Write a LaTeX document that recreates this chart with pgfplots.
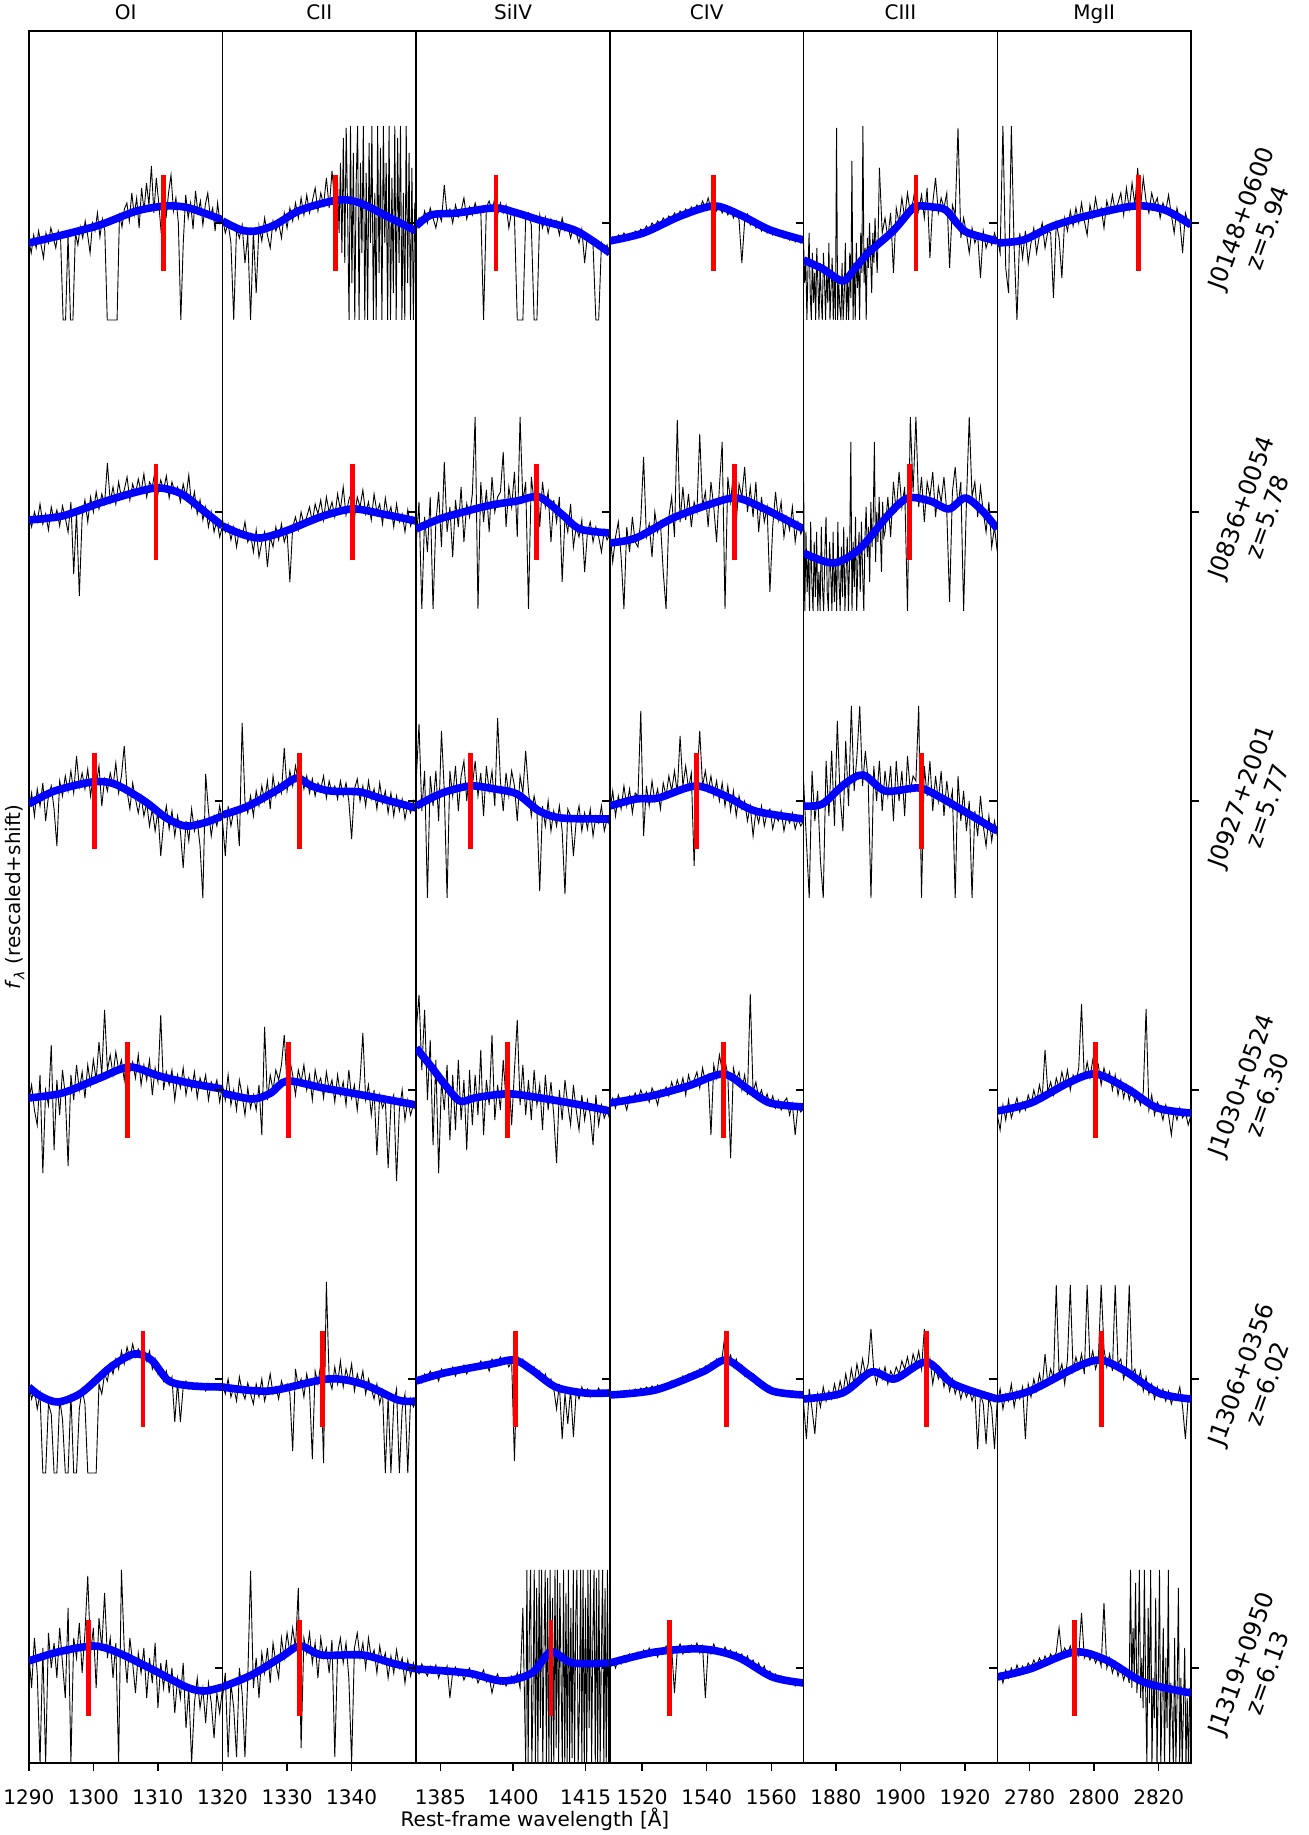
\documentclass[border=0pt]{standalone}
\usepackage{fontspec}
\setmainfont{DejaVu Sans}
\usepackage{pgfplots}
\usepackage{pgfplotstable}
\pgfplotsset{compat=1.18}

\newcommand\spec[4]{%
  \pgfplotstableread[row sep=\\,header=false]{#4\\}\specT
  \pgfplotstablegetrowsof{\specT}%
  \pgfmathsetmacro\specN{\pgfplotsretval-1}%
  \addplot[black, line width=0.45pt] table[x index=0, y index=0, x expr={#1+\coordindex*(#2-#1)/\specN}, y expr={\thisrowno{0}+#3}]{\specT};%
}
\newcommand\bl[2]{%
  \pgfplotstableread[row sep=\\,header=false]{#2\\}\blT
  \addplot[blue, line width=3.8pt, smooth, line join=round] table[x index=0, y index=1, y expr={\thisrowno{1}+#1}]{\blT};}
\newcommand\rl[3]{\addplot[red, line width=2.3pt] coordinates {(#1,#2) (#1,#3)};}

\pgfplotsset{
  panel/.style={
    scale only axis, width=96.85pt, height=866pt,
    anchor=south west,
    ymin=72, ymax=1804,
    ytick={167,456,745,1034,1323,1612},
    yticklabels={},
    xtick pos=left, ytick pos=left,
    tick align=outside,
    major tick length=4pt,
    every tick/.style={black, line width=0.7pt},
    axis line style={line width=0.8pt},
    scaled x ticks=false,
    /pgf/number format/assume math mode=true,
    xticklabel style={font=\fontsize{10}{12}\selectfont, anchor=base, yshift=-16.5pt},
    every axis title/.style={at={(0.5,1)}, anchor=base, yshift=5.5pt, font=\fontsize{10}{12}\selectfont},
  }
}

\begin{document}
\begin{tikzpicture}
\path[use as bounding box] (0,0) rectangle (654.5pt,917.5pt);

% ---------------- OI
\begin{axis}[panel, at={(14.4pt,36pt)}, xmin=1290, xmax=1320, xtick={1290,1300,1310}, xticklabels={1290,1300,1310}, title={OI}, ytick=\empty]
\spec{1290}{1320}{1612}{-18\\-30\\-12\\-25\\-8\\-22\\-35\\-10\\-20\\-5\\-15\\-25\\-8\\-18\\-97\\-97\\-12\\-97\\-97\\-10\\-22\\-4\\-15\\2\\-12\\-30\\0\\-8\\10\\-14\\4\\-8\\-97\\-97\\-97\\-97\\-97\\10\\-4\\14\\20\\2\\30\\8\\25\\-5\\35\\12\\40\\18\\57\\10\\45\\20\\-10\\38\\5\\30\\48\\12\\25\\0\\-97\\-20\\28\\5\\20\\-6\\32\\10\\22\\-2\\18\\30\\6\\15\\-8\\20\\0\\8}
\bl{1612}{1290 -20\\1295.2 -12\\1301 -2\\1306.7 12\\1311.3 17\\1314.8 15\\1320 3}
\rl{1310.9}{1564}{1660}
\spec{1290}{1320}{1323}{-5\\-15\\0\\-10\\8\\-12\\-2\\-18\\5\\-8\\2\\-14\\6\\-6\\-20\\10\\-62\\0\\-84\\-5\\12\\-10\\15\\0\\20\\3\\18\\8\\49\\10\\25\\8\\30\\14\\22\\35\\12\\28\\18\\33\\20\\38\\15\\30\\25\\42\\18\\32\\22\\36\\14\\30\\20\\25\\10\\28\\15\\37\\5\\20\\-2\\12\\-8\\5\\-15\\0\\-20\\-8\\-25\\-14}
\bl{1323}{1290 -8\\1295.2 -4\\1301 9\\1306.7 20\\1310.2 24\\1313.7 18\\1317.1 1\\1320 -14}
\rl{1309.7}{1275}{1371}
\spec{1290}{1320}{1034}{-10\\8\\-15\\12\\-5\\18\\-20\\5\\15\\-8\\-45\\20\\5\\25\\10\\30\\8\\45\\14\\28\\12\\32\\5\\25\\15\\35\\-5\\22\\10\\28\\15\\38\\8\\25\\55\\10\\-8\\18\\2\\-12\\5\\-15\\-2\\-25\\-8\\-30\\-10\\-55\\-22\\-5\\-28\\-10\\-35\\-15\\-30\\-67\\-20\\-40\\-8\\-30\\-20\\-45\\-97\\27\\-10\\-35\\-15\\-25\\-5\\-20}
\bl{1034}{1290 -3\\1294 10\\1299.8 19\\1303.3 17\\1307.9 0\\1311.3 -17\\1314.2 -25\\1317.1 -22\\1320 -15}
\rl{1300.2}{986}{1082}
\spec{1290}{1320}{745}{-10\\5\\-20\\-35\\15\\-83\\0\\-15\\45\\-60\\10\\-25\\20\\-5\\-76\\15\\-10\\25\\0\\18\\-8\\25\\5\\30\\10\\48\\15\\80\\20\\35\\15\\38\\20\\30\\10\\40\\18\\28\\12\\35\\5\\25\\10\\30\\-5\\22\\8\\75\\0\\18\\5\\20\\-10\\15\\2\\22\\-5\\12\\0\\18\\-8\\12\\2\\15\\-10\\8\\0\\10\\-12\\5}
\bl{745}{1290 -8\\1295.2 -3\\1301 12\\1305.6 23\\1310.2 14\\1314.8 7\\1320 1}
\rl{1305.3}{697}{793}
\spec{1290}{1320}{456}{-5\\-20\\-10\\-30\\-15\\-94\\-94\\-25\\-35\\-94\\-94\\-20\\-40\\-94\\-94\\-15\\-94\\-94\\-30\\-10\\-25\\-94\\-94\\-94\\-94\\-5\\-15\\5\\-2\\15\\5\\20\\10\\28\\15\\32\\20\\35\\22\\30\\25\\32\\18\\28\\10\\20\\5\\12\\-2\\8\\-5\\2\\-43\\-3\\-43\\-8\\-2\\-10\\-5\\-9\\-4\\-10\\-6\\-12\\-5\\-9\\-7\\-11\\-6\\-8}
\bl{456}{1290 -8\\1291.8 -17\\1294.5 -23\\1298.1 -14\\1302.7 12\\1306.3 25\\1309 19\\1311.7 -2\\1315.4 -7\\1320 -8}
\rl{1307.7}{408}{504}
\spec{1290}{1320}{167}{15\\-20\\30\\-5\\-95\\20\\-95\\35\\0\\25\\-10\\40\\5\\-30\\60\\-95\\30\\10\\45\\-5\\35\\92\\15\\40\\-20\\50\\20\\75\\10\\30\\-10\\25\\-95\\98\\20\\-15\\30\\5\\-25\\15\\-5\\20\\-30\\10\\-15\\25\\-40\\5\\-20\\8\\-25\\0\\-45\\-10\\-30\\5\\-60\\-20\\-95\\-35\\-10\\-40\\-20\\-55\\-15\\-35\\-70\\-25\\-45\\-20}
\bl{167}{1290 7\\1294.5 16\\1300 22\\1303.6 16\\1309 -1\\1314.4 -19\\1317.2 -23\\1320 -19}
\rl{1299.2}{119}{215}
\end{axis}

% ---------------- CII
\begin{axis}[panel, at={(111.25pt,36pt)}, xmin=1320, xmax=1350, xtick={1320,1330,1340}, xticklabels={1320,1330,1340}, title={CII}]
\spec{1320}{1337.83}{1612}{5\\-10\\0\\-20\\-97\\-5\\-15\\-2\\-40\\-12\\-97\\-8\\-70\\-3\\-18\\5\\-12\\-25\\2\\-8\\0\\-15\\10\\-5\\15\\2\\20\\5\\25\\8\\28\\10\\22\\35\\12\\30\\18\\45\\15\\52\\20\\40}
\spec{1337.83}{1350}{1612}{40\\-10\\60\\-30\\85\\-40\\95\\10\\-97\\97\\-60\\70\\-97\\40\\97\\-97\\60\\-30\\97\\-97\\50\\-97\\80\\-20\\97\\-97\\30\\-97\\97\\-50\\75\\-97\\97\\-20\\60\\-97\\97\\-97\\45\\-70\\97\\-97\\85\\-40\\97\\-97\\30\\-97\\97\\-60\\70\\-97\\55\\-97\\20\\-40}
\bl{1612}{1320 2\\1322.9 -7\\1325.2 -8\\1328.1 -2\\1332.1 13\\1337.9 23\\1341.3 20\\1346 5\\1350 -8}
\rl{1337.5}{1564}{1660}
\spec{1320}{1350}{1323}{-8\\-20\\-12\\-28\\-15\\-35\\-18\\-25\\-10\\-30\\-22\\-40\\-18\\-45\\-30\\-20\\-55\\-25\\-35\\-15\\-28\\-12\\-30\\-20\\-70\\-15\\-5\\-18\\0\\-12\\-5\\5\\-10\\8\\-2\\12\\-8\\15\\0\\10\\-5\\18\\2\\25\\-3\\12\\20\\-6\\15\\5\\22\\-2\\10\\-8\\18\\0\\8\\-12\\14\\-4\\5\\-15\\8\\-10\\-2\\-20\\2\\-14\\-6\\-10}
\bl{1323}{1320 -14\\1322.9 -22\\1325.8 -26\\1329.8 -19\\1335.6 -4\\1340.2 3\\1344.8 -2\\1350 -9}
\rl{1340.1}{1275}{1371}
\spec{1320}{1350}{1034}{-20\\-55\\-5\\-25\\-10\\-8\\-45\\78\\0\\-12\\5\\-15\\10\\-5\\15\\0\\20\\-8\\25\\5\\18\\8\\53\\10\\30\\15\\35\\20\\28\\12\\25\\8\\22\\5\\18\\12\\25\\3\\20\\8\\15\\2\\20\\5\\18\\0\\-38\\12\\22\\0\\15\\-5\\20\\2\\12\\-8\\18\\-2\\10\\-12\\8\\-15\\5\\-10\\2\\-18\\-3\\-12\\0\\-10}
\bl{1034}{1320 -14\\1324 -5\\1328.7 12\\1331.5 23\\1333.8 15\\1336.7 10\\1341.3 9\\1344.8 2\\1350 -7}
\rl{1331.9}{986}{1082}
\spec{1320}{1350}{745}{5\\-10\\15\\-15\\0\\-20\\10\\-5\\-25\\2\\-18\\-5\\-20\\5\\-45\\63\\-10\\15\\0\\20\\10\\25\\55\\5\\30\\15\\-5\\20\\8\\25\\0\\15\\-10\\20\\5\\12\\-8\\18\\0\\10\\-12\\15\\-5\\8\\-15\\20\\-8\\5\\-20\\10\\57\\-10\\5\\-25\\0\\-65\\-5\\-18\\-10\\-78\\-15\\-5\\-91\\-20\\0\\-30\\-10\\-25\\-15\\-20}
\bl{745}{1320 -3\\1324.6 -9\\1327.5 -3\\1330 9\\1335.6 2\\1342.5 -6\\1350 -15}
\rl{1330.2}{697}{793}
\spec{1320}{1350}{456}{-5\\-15\\0\\-18\\-8\\-22\\2\\-12\\-20\\-4\\-15\\-25\\-5\\-18\\0\\-22\\-10\\5\\-15\\-8\\-20\\-2\\-12\\-5\\-15\\-72\\10\\-8\\0\\-18\\5\\-10\\-80\\8\\-5\\15\\-84\\97\\0\\-10\\12\\-5\\18\\-8\\10\\-2\\15\\-12\\5\\-6\\8\\-15\\0\\-10\\-20\\-5\\-25\\-12\\-94\\-18\\-94\\-25\\-10\\-94\\-30\\-15\\-94\\-20\\-28\\-22}
\bl{456}{1320 -8\\1327.2 -12\\1336.3 0\\1341.7 -5\\1347.2 -21\\1350 -22}
\rl{1335.5}{408}{504}
\spec{1320}{1350}{167}{-30\\-5\\-89\\-15\\-40\\-89\\0\\-25\\-89\\-10\\97\\-20\\10\\-30\\15\\-5\\20\\-15\\25\\5\\-10\\30\\10\\35\\15\\40\\20\\80\\-80\\30\\15\\35\\5\\25\\-10\\30\\10\\20\\-5\\28\\-89\\15\\30\\5\\25\\-10\\-95\\20\\35\\10\\25\\0\\30\\10\\18\\-5\\22\\5\\15\\-10\\12\\-5\\18\\0\\10\\-15\\8\\-8\\5\\-5}
\bl{167}{1320 -19\\1324.5 -7\\1329.1 11\\1332 22\\1335.4 13\\1341.7 13\\1346.2 5\\1350 -1}
\rl{1331.9}{119}{215}
\end{axis}

% ---------------- SiIV
\begin{axis}[panel, at={(208.1pt,36pt)}, xmin=1380, xmax=1420, xtick={1385,1400,1415}, xticklabels={1385,1400,1415}, title={SiIV}]
\spec{1380}{1420}{1612}{-8\\5\\-2\\12\\0\\15\\5\\-5\\10\\2\\38\\8\\14\\0\\18\\6\\12\\25\\4\\16\\8\\20\\10\\14\\-97\\16\\22\\12\\25\\8\\20\\10\\18\\-5\\12\\6\\-97\\-97\\-97\\5\\10\\-2\\-97\\-97\\8\\-5\\6\\-10\\4\\-3\\2\\-12\\5\\-8\\-2\\-15\\-4\\-10\\-20\\-6\\-40\\-12\\-18\\-22\\-97\\-97\\-20\\-28\\-22\\-35}
\bl{1612}{1380 -3\\1383.1 8\\1388.5 10\\1396.2 15\\1400.8 10\\1405.4 3\\1413.1 -8\\1420 -30}
\rl{1396.5}{1564}{1660}
\spec{1380}{1420}{1323}{-30\\10\\-97\\-5\\-40\\15\\-97\\-10\\20\\-35\\50\\-20\\5\\-45\\12\\-15\\25\\-30\\8\\-5\\18\\95\\-97\\30\\-10\\22\\-20\\35\\0\\15\\20\\60\\-15\\25\\5\\40\\-25\\95\\10\\30\\-97\\35\\10\\45\\-15\\30\\5\\20\\-30\\12\\-10\\15\\-70\\-5\\-20\\8\\-35\\-15\\-25\\-8\\-60\\-20\\-10\\-30\\-15\\-25\\-40\\-18\\-28\\-22}
\bl{1323}{1380 -17\\1385.4 -6\\1394.6 6\\1400.8 11\\1405.4 15\\1410 -2\\1413.8 -17\\1420 -21}
\rl{1404.9}{1275}{1371}
\spec{1380}{1420}{1034}{20\\77\\-10\\30\\-97\\25\\-5\\30\\-20\\70\\10\\-97\\30\\5\\35\\-10\\25\\40\\0\\30\\15\\40\\5\\28\\-15\\35\\10\\30\\-5\\83\\20\\-10\\28\\5\\30\\15\\-20\\25\\8\\50\\10\\-15\\5\\-10\\-90\\-5\\-25\\0\\-30\\-10\\-25\\-5\\-30\\-93\\-8\\-15\\-55\\-20\\-5\\-30\\-12\\-28\\-8\\-35\\-15\\-22\\-5\\-30\\-18\\-25}
\bl{1034}{1380 -5\\1385.4 8\\1391.2 15\\1396.2 12\\1400.8 7\\1405.4 -10\\1410 -17\\1420 -18}
\rl{1391.2}{986}{1082}
\spec{1380}{1420}{745}{60\\95\\20\\80\\-10\\50\\-55\\30\\-83\\10\\-20\\25\\-50\\15\\-40\\30\\-30\\10\\-60\\20\\-35\\15\\-25\\40\\-45\\10\\-15\\55\\-30\\5\\-20\\30\\-10\\15\\-35\\20\\70\\-15\\25\\-25\\10\\-30\\20\\-15\\5\\-40\\15\\-20\\8\\-25\\-73\\0\\-30\\10\\-15\\-35\\5\\-20\\-40\\-5\\-30\\-10\\-25\\-55\\-5\\-35\\-15\\-28\\-20\\-30}
\bl{745}{1380 42\\1383 24\\1386 5\\1389 -11\\1392 -8\\1396 -5\\1400 -4\\1407 -9\\1414 -15\\1420 -21}
\rl{1398.8}{697}{793}
\spec{1380}{1420}{456}{-5\\2\\-4\\5\\0\\8\\2\\6\\-2\\10\\4\\9\\6\\12\\3\\10\\8\\14\\5\\12\\9\\15\\10\\18\\12\\16\\8\\20\\14\\17\\22\\15\\20\\12\\18\\-82\\24\\16\\20\\10\\14\\6\\12\\2\\8\\-2\\5\\-6\\0\\-10\\-30\\-5\\-60\\-15\\-45\\-10\\-58\\-12\\-20\\-8\\-16\\-10\\-18\\-12\\-15\\-9\\-17\\-13\\-11\\-15}
\bl{456}{1380 -2\\1385.8 6\\1395.5 15\\1400.3 19\\1403.9 9\\1408.8 -8\\1414.8 -14\\1420 -14}
\rl{1400.5}{408}{504}
\spec{1380}{1402.61}{167}{0\\-6\\4\\-3\\-8\\2\\-5\\3\\-10\\0\\-6\\2\\-30\\-4\\1\\-8\\-2\\-12\\-5\\0\\-10\\-4\\-15\\-8\\-2\\-14\\-9\\-25\\-12\\-6\\-16\\-10\\-18\\-12\\-8\\-15\\-5\\-20\\60\\-97}
\spec{1402.61}{1420}{167}{-97\\98\\-97\\40\\98\\-97\\-30\\98\\-97\\80\\-97\\98\\-60\\98\\-97\\20\\98\\-97\\90\\-97\\98\\-97\\70\\-97\\98\\-80\\98\\-97\\85\\-10\\-97\\98\\-97\\75\\-97\\98\\-97\\60\\-90\\98\\-97\\50\\98\\-97\\-40\\98\\-97\\98\\-97\\70\\-97\\98\\-60\\98\\-97\\30\\98\\-97\\90\\-97\\98\\-97\\10\\98\\-97\\80\\-97\\98\\-97\\60}
\bl{167}{1380 -1\\1390.6 -5\\1397.9 -13\\1403.9 -5\\1407.8 16\\1412.3 5\\1420 5}
\rl{1407.8}{119}{215}
\end{axis}

% ---------------- CIV
\begin{axis}[panel, at={(304.95pt,36pt)}, xmin=1510, xmax=1570, xtick={1520,1540,1560}, xticklabels={1520,1540,1560}, title={CIV}]
\spec{1510}{1570}{1612}{-20\\-14\\-19\\-12\\-17\\-10\\-15\\-11\\-14\\-8\\-12\\-6\\-9\\-3\\-7\\0\\-4\\2\\-2\\5\\1\\7\\3\\10\\5\\12\\8\\14\\9\\16\\11\\18\\13\\22\\15\\25\\14\\20\\12\\18\\10\\16\\8\\14\\5\\12\\3\\-40\\2\\9\\-2\\4\\-5\\1\\-8\\-2\\-10\\-4\\-12\\-6\\-13\\-8\\-15\\-10\\-17\\-12\\-19\\-14\\-20\\-16}
\bl{1612}{1510 -18\\1520.4 -10\\1531.9 7\\1542.3 17\\1550.4 8\\1559.6 -7\\1570 -17}
\rl{1542.1}{1564}{1660}
\spec{1510}{1570}{1323}{-20\\-50\\-25\\-10\\-45\\-97\\-15\\-40\\-5\\-30\\-35\\-8\\55\\-25\\-12\\-45\\0\\-20\\-10\\-60\\-97\\-5\\15\\-25\\92\\-10\\25\\-8\\18\\-15\\10\\0\\78\\5\\20\\-15\\30\\5\\-30\\25\\70\\-97\\35\\10\\40\\-10\\28\\15\\45\\0\\25\\-5\\30\\-20\\15\\-10\\5\\-80\\-15\\20\\-8\\10\\-25\\-5\\-18\\5\\-30\\-10\\-22\\-15}
\bl{1323}{1510 -31\\1518.1 -26\\1529.6 -6\\1541.2 8\\1549.2 14\\1557.3 4\\1570 -17}
\rl{1548.5}{1275}{1371}
\spec{1510}{1570}{1034}{-10\\10\\-15\\5\\-8\\15\\-5\\12\\-12\\8\\5\\90\\-35\\15\\-5\\20\\0\\12\\-8\\18\\5\\25\\10\\30\\8\\65\\15\\35\\12\\28\\-65\\20\\70\\15\\30\\10\\25\\5\\20\\0\\18\\-5\\15\\-10\\10\\-15\\5\\-8\\0\\-20\\-5\\-35\\-10\\-22\\-5\\-25\\-12\\-8\\-28\\-15\\-20\\-10\\-30\\-15\\-22\\-12\\-28\\-18\\-25\\-20}
\bl{1034}{1510 -5\\1518.1 2\\1525 3\\1536.5 15\\1545.8 5\\1555 -10\\1570 -18}
\rl{1536.8}{986}{1082}
\spec{1510}{1570}{745}{-15\\-8\\-18\\-5\\-14\\-10\\-20\\-6\\-12\\-3\\-10\\0\\-8\\-2\\-12\\2\\-5\\-15\\0\\-4\\3\\-6\\8\\-2\\10\\0\\12\\-5\\15\\4\\10\\18\\2\\22\\8\\15\\-45\\25\\12\\35\\20\\30\\15\\-68\\22\\10\\18\\0\\15\\-5\\96\\-2\\8\\-8\\0\\-12\\-4\\-15\\-6\\-18\\-10\\-20\\-12\\-8\\-25\\-14\\-45\\-16\\-22\\-18}
\bl{745}{1510 -13\\1522.7 -6\\1534.2 4\\1545.1 16\\1552.7 1\\1559.6 -13\\1570 -17}
\rl{1545.1}{697}{793}
\spec{1510}{1570}{456}{-18\\-14\\-17\\-13\\-16\\-12\\-15\\-11\\-14\\-10\\-13\\-9\\-12\\-8\\-11\\-7\\-12\\-6\\-10\\-8\\-5\\-8\\-2\\-5\\0\\-3\\3\\0\\5\\2\\7\\4\\10\\6\\13\\8\\16\\11\\20\\14\\22\\45\\18\\24\\12\\20\\8\\14\\3\\8\\0\\5\\-5\\-2\\-8\\-5\\-10\\-7\\-13\\-10\\-14\\-11\\-16\\-13\\-15\\-12\\-17\\-14\\-18\\-15}
\bl{456}{1510 -16\\1524.1 -11\\1538.6 7\\1545.9 19\\1553.1 4\\1560.3 -12\\1570 -16}
\rl{1546.2}{408}{504}
\spec{1510}{1570}{167}{2\\8\\0\\10\\4\\12\\6\\14\\8\\12\\16\\10\\18\\12\\20\\14\\17\\11\\19\\15\\22\\13\\20\\-25\\18\\24\\14\\21\\16\\23\\17\\25\\15\\22\\-30\\20\\14\\24\\16\\19\\13\\21\\15\\18\\10\\16\\8\\14\\6\\12\\3\\8\\0\\5\\-4\\2\\-8\\-3\\-10\\-6\\-12\\-8\\-14\\-10\\-16\\-12\\-18\\-13\\-17\\-15}
\bl{167}{1510 5\\1524.1 16\\1538.6 19\\1549.5 11\\1560.3 -9\\1570 -15}
\rl{1528.5}{119}{215}
\end{axis}

% ---------------- CIII
\begin{axis}[panel, at={(401.8pt,36pt)}, xmin=1870, xmax=1930, xtick={1880,1900,1920}, xticklabels={1880,1900,1920}, title={CIII}]
\spec{1870}{1893.48}{1612}{-20\\-60\\-35\\-97\\-45\\-10\\-70\\-97\\-30\\-80\\-50\\-97\\-25\\-60\\-97\\-40\\-75\\-97\\-30\\-55\\-97\\-45\\-80\\-20\\-97\\-65\\-35\\-97\\-50\\-97\\95\\-97\\-60\\-85\\-97\\-40\\-97\\-70\\-20\\-97\\-55\\-97\\-30\\-75\\62\\-97\\-40\\-97\\-20\\-65\\-35\\-97\\-10\\-50\\97\\-60\\-25\\-97\\-15\\-45\\0\\-35\\-70\\-10\\-40\\5\\-25\\-50\\-5\\55}
\spec{1893.48}{1930}{1612}{55\\-10\\5\\-15\\10\\-50\\15\\0\\25\\5\\30\\10\\22\\40\\12\\28\\5\\35\\-35\\20\\45\\10\\25\\15\\30\\-45\\18\\8\\95\\-15\\5\\-10\\-30\\-5\\-20\\-12\\-55\\-8\\-25\\-15\\-22\\-10\\-20}
\bl{1612}{1870 -37\\1876 -46\\1882.2 -58\\1886 -45\\1890 -30\\1897.7 -8\\1903 12\\1905 17\\1910 16\\1914 13\\1918 -2\\1921 -10\\1930 -18}
\rl{1904.8}{1564}{1660}
\spec{1870}{1895.22}{1323}{30\\-99\\-20\\-80\\-40\\-99\\-10\\-70\\-99\\-30\\-85\\-20\\-99\\-60\\-99\\-15\\-75\\-99\\-40\\-5\\-80\\-99\\-30\\-60\\-99\\-20\\-90\\-50\\-99\\-10\\-70\\-99\\-35\\-85\\-15\\-99\\-60\\-25\\-99\\-45\\70\\-99\\-30\\-75\\-5\\-99\\-50\\-20\\-80\\-10\\-60\\-99\\-25\\5\\-45\\-15\\-70\\10\\-35\\-5\\70\\-50\\0\\-30\\15\\-20\\-60\\10\\-25\\-20}
\spec{1895.22}{1930}{1323}{-20\\15\\-25\\30\\0\\40\\5\\25\\-99\\95\\20\\95\\5\\35\\-10\\30\\15\\40\\-5\\25\\10\\35\\0\\-90\\20\\45\\5\\30\\-99\\10\\95\\15\\30\\-5\\25\\0\\-20\\10\\-35\\-15\\-40}
\bl{1323}{1870 -41\\1879.2 -51\\1887.3 -37\\1896.5 -2\\1902.3 14\\1909.2 11\\1915 3\\1920.1 14\\1925.4 1\\1930 -17}
\rl{1902.8}{1275}{1371}
\spec{1870}{1930}{1034}{20\\-40\\-97\\30\\-20\\10\\-60\\-97\\40\\-15\\50\\-25\\80\\5\\-30\\60\\-5\\95\\10\\45\\95\\15\\50\\20\\-97\\35\\0\\40\\-10\\30\\5\\35\\-20\\40\\0\\30\\-15\\45\\10\\25\\20\\95\\-97\\35\\5\\40\\-10\\25\\0\\30\\-15\\20\\-5\\10\\-97\\25\\-20\\10\\-30\\0\\-97\\-10\\-35\\5\\-25\\-45\\-15\\-40\\-20\\-35}
\bl{1034}{1870 -5\\1875.8 -3\\1882.7 17\\1888.5 26\\1895.4 10\\1905.8 13\\1912.7 3\\1919.6 -10\\1930 -30}
\rl{1906.5}{986}{1082}
\spec{1870}{1930}{456}{-25\\-60\\-10\\-30\\-55\\-15\\-28\\-8\\-22\\-12\\-20\\-5\\-18\\-2\\-15\\5\\-10\\10\\-5\\15\\0\\20\\5\\15\\50\\8\\-5\\10\\0\\12\\-5\\8\\2\\12\\5\\18\\10\\22\\8\\25\\15\\28\\10\\50\\5\\20\\-5\\12\\0\\8\\-8\\5\\-12\\0\\-15\\-5\\-20\\-8\\-18\\-10\\-22\\-12\\-70\\-15\\-25\\-65\\-18\\-30\\-70\\-20}
\bl{456}{1870 -20\\1882 -14\\1891 7\\1898.2 0\\1908 17\\1916.4 -5\\1930 -20}
\rl{1908}{408}{504}
\end{axis}

% ---------------- MgII
\begin{axis}[panel, at={(498.65pt,36pt)}, xmin=2770, xmax=2830, xtick={2780,2800,2820}, xticklabels={2780,2800,2820}, title={MgII}, ytick pos=both]
\spec{2770}{2830}{1612}{-15\\-30\\97\\-45\\-70\\97\\-25\\-97\\-10\\-35\\-8\\-40\\-20\\-5\\-30\\-12\\0\\-25\\-8\\-10\\-75\\0\\-15\\-55\\5\\-8\\12\\-3\\15\\0\\20\\2\\-12\\18\\5\\25\\8\\15\\-5\\22\\10\\28\\12\\20\\30\\8\\35\\14\\40\\18\\55\\15\\45\\22\\10\\30\\18\\25\\5\\20\\12\\28\\8\\-10\\15\\2\\-30\\10\\0\\-5}
\bl{1612}{2770 -20\\2778.1 -17\\2787.3 -3\\2798.8 8\\2812.7 17\\2821.9 13\\2830 -2}
\rl{2813.8}{1564}{1660}
\spec{2770}{2830}{745}{-25\\-40\\-15\\-30\\-10\\-28\\-18\\-8\\-22\\-12\\-20\\-5\\-15\\0\\-12\\5\\-8\\40\\-2\\8\\-5\\12\\2\\18\\5\\20\\0\\15\\8\\22\\86\\10\\28\\12\\30\\15\\25\\5\\22\\10\\18\\0\\15\\-5\\10\\-8\\5\\-10\\2\\-12\\-5\\-15\\-2\\81\\-20\\-5\\-25\\-12\\-18\\-30\\-15\\-25\\-45\\-20\\-30\\-18\\-28\\-22\\-35\\-25}
\bl{745}{2770 -21\\2780.4 -13\\2791.9 7\\2800.5 16\\2810.4 1\\2819.6 -18\\2830 -23}
\rl{2800.5}{697}{793}
\spec{2770}{2830}{456}{-25\\-10\\-30\\-15\\-22\\-5\\-28\\-12\\-20\\-8\\-60\\-5\\-18\\0\\-12\\5\\-8\\25\\-5\\10\\0\\94\\5\\15\\-5\\20\\94\\8\\22\\10\\25\\5\\94\\15\\28\\10\\20\\94\\30\\12\\25\\8\\94\\15\\20\\0\\12\\94\\5\\10\\-5\\8\\-12\\2\\-15\\-5\\-20\\-8\\-18\\-10\\-22\\-12\\-25\\-15\\-20\\-8\\-28\\-60\\-18\\-22}
\bl{456}{2770 -20\\2780.1 -12\\2794.6 12\\2801.9 19\\2809.1 9\\2820 -14\\2830 -20}
\rl{2802.2}{408}{504}
\spec{2770}{2810.87}{167}{-12\\-5\\-15\\-2\\-10\\0\\-8\\3\\-5\\2\\-3\\5\\0\\8\\2\\10\\4\\12\\6\\14\\8\\16\\40\\12\\20\\14\\22\\10\\18\\12\\55\\10\\16\\8\\14\\5\\12\\2\\65\\0\\10\\-5\\6\\-8\\2\\-12\\-2\\-15}
\spec{2810.87}{2830}{167}{-15\\98\\-20\\40\\-10\\85\\-25\\-5\\98\\-30\\10\\-40\\98\\-20\\-98\\60\\-35\\98\\-98\\-10\\-50\\70\\-98\\-20\\98\\-98\\-30\\40\\-98\\10\\-60\\98\\-98\\-15\\-45\\-98\\30\\-98\\-25\\80\\-98\\-10\\-98\\-40\\20\\-98\\-30\\-98\\-20\\-35}
\bl{167}{2770 -9\\2780.1 -1\\2793.9 16\\2803.7 8\\2814.5 -13\\2823.6 -21\\2830 -25}
\rl{2793.9}{119}{215}
\end{axis}

% ---------------- labels
\begin{scope}[every node/.style={rotate=70, align=center, font=\fontsize{12}{14}\selectfont}]
\node at (627pt,806pt) {J0148+0600\\z=5.94};
\node at (627pt,661.5pt) {J0836+0054\\z=5.78};
\node at (627pt,517pt) {J0927+2001\\z=5.77};
\node at (627pt,372.5pt) {J1030+0524\\z=6.30};
\node at (627pt,228pt) {J1306+0356\\z=6.02};
\node at (627pt,83.5pt) {J1319+0950\\z=6.13};
\end{scope}
\node[rotate=90, font=\fontsize{10}{12}\selectfont] at (7.5pt,469pt) {\textit{f}\textsubscript{\textit{λ}} (rescaled+shift)};
\node[anchor=base, font=\fontsize{10}{12}\selectfont] at (267.5pt,4.5pt) {Rest-frame wavelength [Å]};
\end{tikzpicture}
\end{document}
